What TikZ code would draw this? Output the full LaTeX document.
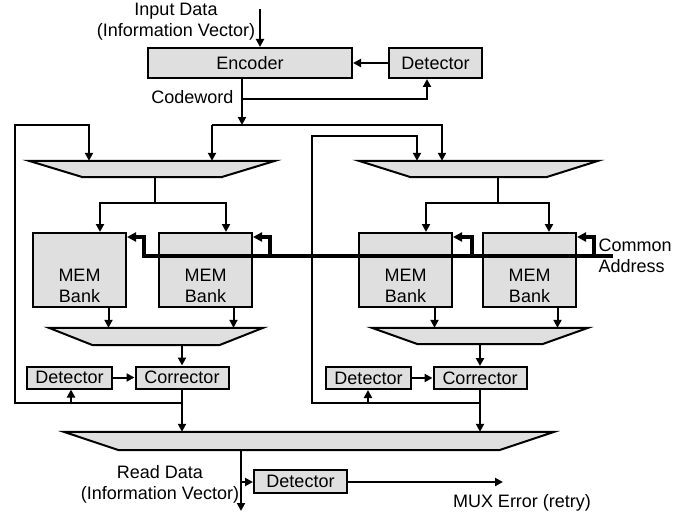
\documentclass[tikz,border=0pt]{standalone}
\usepackage{fontspec}
\setmainfont{Liberation Sans}
\usetikzlibrary{arrows.meta}

\tikzset{
  blk/.style={draw, fill=gray!25, line width=2pt, inner sep=0pt, minimum height=22pt},
  membox/.style={blk, minimum width=93pt, minimum height=74pt},
  wire/.style={line width=2pt},
  mux/.style={inner sep=0pt, minimum height=16pt,
    append after command={\pgfextra{\draw[wire, fill=gray!25, line join=miter]
      (\tikzlastnode.north west) -- (\tikzlastnode.north east)
      -- ([xshift=-#1]\tikzlastnode.south east) -- ([xshift=#1]\tikzlastnode.south west) -- cycle;}}},
  arr/.style={wire, -{Triangle[length=8pt,width=8pt]}},
  busarr/.style={line width=3.4pt, -{Triangle[length=9pt,width=9pt]}},
}

\begin{document}
\begin{tikzpicture}[x=1pt, y=-1pt, font=\fontsize{18}{21}\selectfont]
\useasboundingbox (0,0) rectangle (687,516);

% encoder stage
\node[blk, minimum width=204pt, minimum height=30pt] (enc) at (250,63) {Encoder};
\node[blk, minimum width=93pt, minimum height=30pt] (dett) at (435.5,63) {Detector};
\node[align=center] (inlbl) at (176,22) {Input Data\\(Information Vector)};
\coordinate (in) at (260,9);
\draw[arr] (in) -- (in |- enc.north);
\draw[arr] (dett) -- (enc);

\coordinate (cw) at (242,99);
\coordinate (cwr) at (427,99);
\coordinate (tb) at (242,125);
\draw[arr] (cw |- enc.south) -- (tb);
\draw[arr] (cw) -- (cwr) -- (cwr |- dett.south);
\node[anchor=east] (cwlbl) at (237,97) {Codeword};

% input muxes
\node[mux=54pt, minimum width=246pt] (m1) at (152,169) {};
\node[mux=52pt, minimum width=239pt] (m2) at (478.5,169) {};

\coordinate (t1) at (212,125);
\coordinate (t2) at (442,125);
\draw[arr] (t1) -- (t1 |- m1.north);
\draw[arr] (t1) -- (t2) -- (t2 |- m2.north);

% memory banks
\node[membox, label={[align=center, yshift=-16pt]center:MEM\\Bank}] (mem1) at (79.5,270) {};
\node[membox, label={[align=center, yshift=-16pt]center:MEM\\Bank}] (mem2) at (205.5,270) {};
\node[membox, label={[align=center, yshift=-16pt]center:MEM\\Bank}] (mem3) at (405.5,270) {};
\node[membox, label={[align=center, yshift=-16pt]center:MEM\\Bank}] (mem4) at (529.5,270) {};

\coordinate (s1) at (155,203);
\coordinate (a1) at (100,203);
\coordinate (a2) at (226,203);
\draw[wire] (s1 |- m1.south) -- (s1);
\draw[arr] (a2) -- (a1) -- (a1 |- mem1.north);
\draw[arr] (a1) -- (a2) -- (a2 |- mem2.north);

\coordinate (s2) at (498,203);
\coordinate (a3) at (426,203);
\coordinate (a4) at (549,203);
\draw[wire] (s2 |- m2.south) -- (s2);
\draw[arr] (a4) -- (a3) -- (a3 |- mem3.north);
\draw[arr] (a3) -- (a4) -- (a4 |- mem4.north);

% common address bus
\coordinate (busr) at (613,256);
\coordinate (k1) at (144,256);
\coordinate (k2) at (270,256);
\coordinate (k3) at (472,256);
\coordinate (k4) at (594,256);
\draw[busarr] (busr) -- (k1) |- ([yshift=-5pt]mem1.north east);
\draw[busarr] (k2) |- ([yshift=-5pt]mem2.north east);
\draw[busarr] (k3) |- ([yshift=-5pt]mem3.north east);
\draw[busarr] (k4) |- ([yshift=-5pt]mem4.north east);
\node[anchor=west, align=left] (addr) at (595,256) {Common\\Address};

% output muxes
\node[mux=44pt, minimum width=214pt, minimum height=17pt] (m3) at (156,336.5) {};
\node[mux=46pt, minimum width=216pt] (m4) at (480,336) {};
\draw[arr] ([xshift=29pt]mem1.south) -- ([xshift=29pt]mem1.south |- m3.north);
\draw[arr] ([xshift=28pt]mem2.south) -- ([xshift=28pt]mem2.south |- m3.north);
\draw[arr] ([xshift=29pt]mem3.south) -- ([xshift=29pt]mem3.south |- m4.north);
\draw[arr] ([xshift=28pt]mem4.south) -- ([xshift=28pt]mem4.south |- m4.north);

% detect and correct
\node[blk, minimum width=85pt] (det1) at (69.5,377.5) {Detector};
\node[blk, minimum width=93pt] (cor1) at (182,377.5) {Corrector};
\node[blk, minimum width=85pt] (det2) at (368.5,378) {Detector};
\node[blk, minimum width=93pt] (cor2) at (480,378) {Corrector};
\draw[arr] (m3.south -| cor1) -- (cor1);
\draw[arr] (m4.south -| cor2) -- (cor2);
\draw[arr] (det1) -- (cor1);
\draw[arr] (det2) -- (cor2);

\node[mux=55pt, minimum width=490pt, minimum height=18pt] (m5) at (309,441) {};
\draw[arr] (cor1) -- (cor1 |- m5.north);
\draw[arr] (cor2) -- (cor2 |- m5.north);

% feedback loops
\coordinate (lb) at (15,403);
\coordinate (lt) at (89,125);
\draw[arr] (cor1 |- lb) -- (lb) |- (lt) -- (lt |- m1.north);
\coordinate (d1in) at (71,403);
\draw[arr] (d1in) -- (d1in |- det1.south);

\coordinate (rb) at (312,403);
\coordinate (rt) at (417,136);
\draw[arr] (cor2 |- rb) -- (rb) |- (rt) -- (rt |- m2.north);
\coordinate (d2in) at (368,403);
\draw[arr] (d2in) -- (d2in |- det2.south);

% read data
\node[blk, minimum width=93pt, minimum height=23pt] (det3) at (300.5,481.5) {Detector};
\coordinate (rd) at (241,482);
\coordinate (rdend) at (241,511);
\coordinate (err) at (503,482);
\draw[arr] (rd |- m5.south) -- (rdend);
\draw[arr] (rd) -- (rd -| det3.west);
\draw[arr] (det3.east |- err) -- (err);
\node[align=center] (rdlbl) at (160,484) {Read Data\\(Information Vector)};
\node (errlbl) at (522,503) {MUX Error (retry)};

\end{tikzpicture}
\end{document}
